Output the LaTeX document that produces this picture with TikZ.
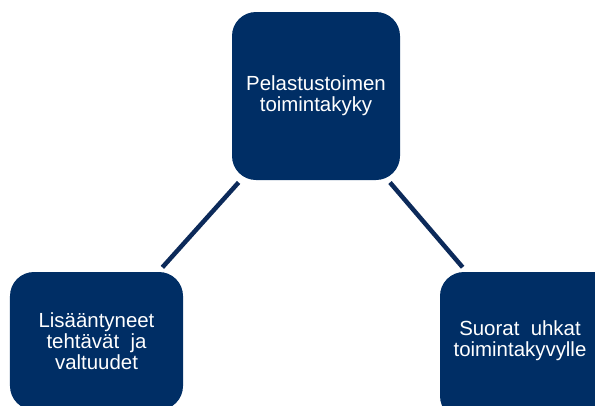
\documentclass[tikz,border=0pt]{standalone}
\usepackage{fontspec}
\setmainfont{Liberation Sans}
\definecolor{boxblue}{HTML}{002E65}
\definecolor{lineblue}{HTML}{0C2A5A}
\begin{document}
\begin{tikzpicture}[x=1bp,y=-1bp,
  card/.style={draw=none,fill=boxblue,rounded corners=24bp,text=white,
    align=center,inner sep=0pt,font=\fontsize{20.5}{21}\selectfont},
  cardtext/.style={text=white,align=center,inner sep=0pt,font=\fontsize{20.5}{21}\selectfont},
  link/.style={draw=lineblue,line width=4.5bp,shorten <=3bp,shorten >=6bp}]
\useasboundingbox (0,0) rectangle (595,405);
\clip (0,0) rectangle (595,405);
\node[card,minimum width=168bp,minimum height=168bp] (top) at (316,96)
  {Pelastustoimen\\toimintakyky};
\node[card,minimum width=173bp,minimum height=138bp] (left) at (96.5,341)
  {Lisääntyneet\\tehtävät\ \ ja\\valtuudet};
\node[card,minimum width=180bp,minimum height=148bp] (right) at (530,346) {};
\node[cardtext] (rtext) at (520,341)
  {Suorat\ \ uhkat\\toimintakyvylle};
\draw[link] (top) -- (left);
\draw[link] (top) -- (right);
\end{tikzpicture}
\end{document}
